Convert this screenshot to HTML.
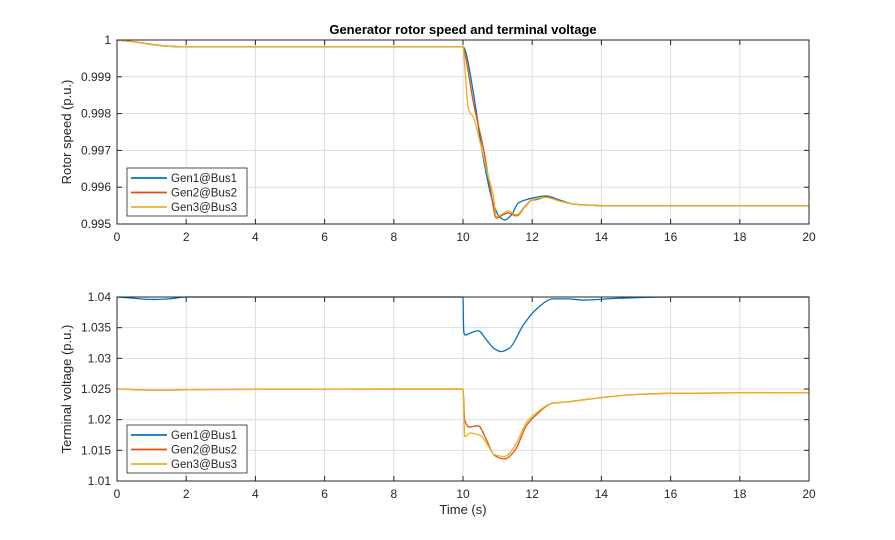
<!DOCTYPE html>
<html><head><meta charset="utf-8"><style>
html,body{margin:0;padding:0;background:#fff;}
svg{display:block;font-family:"Liberation Sans",Arial,sans-serif;}
</style></head><body>
<svg id="chart" width="895" height="540" viewBox="0 0 895 540" xmlns="http://www.w3.org/2000/svg">
<text x="463" y="34" text-anchor="middle" font-size="13" font-weight="bold" fill="#000">Generator rotor speed and terminal voltage</text>
<g id="top"></g>
<g id="bot"></g>
</svg>
<script>
const xTicks = [0,2,4,6,8,10,12,14,16,18,20];
const speedTicks = [0.995,0.996,0.997,0.998,0.999,1];
const speedTickLabels = ["0.995","0.996","0.997","0.998","0.999","1"];
const voltTicks = [1.01,1.015,1.02,1.025,1.03,1.035,1.04];
const voltTickLabels = ["1.01","1.015","1.02","1.025","1.03","1.035","1.04"];
const seriesNames = ["Gen1@Bus1","Gen2@Bus2","Gen3@Bus3"];

const speedT1 = [0,0.5,1,1.5,1.8,10,10.05,10.3,10.58,10.87,11.05,11.21,11.4,11.6,11.9,12.4,12.8,13.2,13.7,14,20];
const speedGen1 = [1,0.99995,0.99988,0.99983,0.99982,0.99982,0.99975,0.99856,0.99682,0.99557,0.9952,0.99511,0.99525,0.99557,0.99568,0.99576,0.99565,0.99554,0.99551,0.9955,0.9955];
const speedT2 = [0,0.5,1,1.5,1.8,10,10.05,10.3,10.6,10.8,10.96,11.1,11.3,11.55,11.8,12.0,12.1,12.4,12.8,13.2,13.7,14,20];
const speedGen2 = [1,0.99995,0.99988,0.99983,0.99982,0.99982,0.99965,0.99830,0.99700,0.99590,0.99516,0.99522,0.99530,0.99522,0.99548,0.99565,0.99566,0.99573,0.99563,0.99554,0.99551,0.9955,0.9955];
const speedT3 = [0,0.5,1,1.5,1.8,10,10.05,10.16,10.3,10.5,10.7,10.87,10.96,11.1,11.3,11.55,11.8,12.0,12.4,12.8,13.2,13.7,14,20];
const speedGen3 = [1,0.99995,0.99988,0.99983,0.99982,0.99982,0.99930,0.99810,0.99790,0.99720,0.99640,0.99579,0.99520,0.99525,0.99535,0.99525,0.99550,0.99566,0.99572,0.99562,0.99554,0.99551,0.9955,0.9955];

const voltT1 = [0,0.5,1,1.5,2,10,10.02,10.05,10.2,10.44,10.68,10.9,11.1,11.35,11.74,12.1,12.6,13,13.5,14.5,16,20];
const voltGen1 = [1.04,1.0398,1.0396,1.0397,1.04,1.04,1.0345,1.0338,1.0341,1.0345,1.0330,1.0316,1.0311,1.0317,1.0354,1.0379,1.0397,1.0397,1.0395,1.0398,1.04,1.04];
const voltT2 = [0,0.5,1,1.5,2,10,10.05,10.18,10.44,10.68,10.9,11.2,11.5,11.84,12.1,12.6,13,14,15,16,20];
const voltGen2 = [1.025,1.0249,1.0248,1.0248,1.0249,1.025,1.0199,1.0188,1.0190,1.0167,1.0142,1.0136,1.0150,1.0191,1.0207,1.0227,1.0229,1.0236,1.0241,1.0243,1.0244];
const voltT3 = [0,0.5,1,1.5,2,10,10.05,10.2,10.5,10.7,10.9,11.2,11.5,11.84,12.1,12.6,13,14,15,16,20];
const voltGen3 = [1.025,1.0249,1.0248,1.0248,1.0249,1.025,1.0172,1.0178,1.0174,1.0160,1.0143,1.0140,1.0157,1.0196,1.0210,1.0227,1.0229,1.0236,1.0241,1.0243,1.0244];

const colors = ["#0072BD","#D95319","#EDB120"];
const NS = "http://www.w3.org/2000/svg";
function mk(tag, attrs, parent){ const e=document.createElementNS(NS,tag); for(const k in attrs) e.setAttribute(k,attrs[k]); parent.appendChild(e); return e; }

// monotone cubic path (no overshoot)
function monoPath(X, Y){
  const n = X.length;
  const d = [], m = new Array(n).fill(0);
  for(let i=0;i<n-1;i++) d.push((Y[i+1]-Y[i])/(X[i+1]-X[i]));
  m[0]=d[0]; m[n-1]=d[n-2];
  for(let i=1;i<n-1;i++){
    if(d[i-1]*d[i]<=0) m[i]=0;
    else { const h0=X[i]-X[i-1], h1=X[i+1]-X[i]; const w1=2*h1+h0, w2=h1+2*h0; m[i]=(w1+w2)/(w1/d[i-1]+w2/d[i]); }
  }
  let p = `M${X[0].toFixed(2)},${Y[0].toFixed(2)}`;
  for(let i=0;i<n-1;i++){
    const h=(X[i+1]-X[i])/3;
    p += ` C${(X[i]+h).toFixed(2)},${(Y[i]+m[i]*h).toFixed(2)} ${(X[i+1]-h).toFixed(2)},${(Y[i+1]-m[i+1]*h).toFixed(2)} ${X[i+1].toFixed(2)},${Y[i+1].toFixed(2)}`;
  }
  return p;
}

function drawPanel(g, box, yMin, yMax, yTicks, yLabels, yTitle, series, showX){
  const xs = v => box.x0 + (v-0)/(20-0)*(box.x1-box.x0);
  const ys = v => box.y1 - (v-yMin)/(yMax-yMin)*(box.y1-box.y0);
  mk('rect',{x:box.x0,y:box.y0,width:box.x1-box.x0,height:box.y1-box.y0,fill:'#fff'},g);
  xTicks.forEach((t,i)=>{
    const gl = mk('line',{x1:xs(t),x2:xs(t),y1:box.y0,y2:box.y1,stroke:'#dedede','stroke-width':1},g);
    
    
    mk('line',{x1:xs(t),x2:xs(t),y1:box.y1,y2:box.y1-5,stroke:'#262626'},g);
    mk('line',{x1:xs(t),x2:xs(t),y1:box.y0,y2:box.y0+5,stroke:'#262626'},g);
    const tx = mk('text',{x:xs(t),y:box.y1+17,'text-anchor':'middle','font-size':12,fill:'#262626'},g);
    tx.textContent = String(t);
    
    
  });
  yTicks.forEach((t,i)=>{
    const gl = mk('line',{x1:box.x0,x2:box.x1,y1:ys(t),y2:ys(t),stroke:'#dedede','stroke-width':1},g);
    
    
    mk('line',{x1:box.x0,x2:box.x0+5,y1:ys(t),y2:ys(t),stroke:'#262626'},g);
    mk('line',{x1:box.x1,x2:box.x1-5,y1:ys(t),y2:ys(t),stroke:'#262626'},g);
    const tx = mk('text',{x:box.x0-6,y:ys(t)+4,'text-anchor':'end','font-size':12,fill:'#262626'},g);
    tx.textContent = yLabels[i];
    
    
  });
  const cy = (box.y0+box.y1)/2;
  const yt = mk('text',{x:box.x0-46,y:cy,'text-anchor':'middle','font-size':13,fill:'#262626',transform:`rotate(-90 ${box.x0-46} ${cy})`},g);
  yt.textContent = yTitle;
  
  
  series.forEach((s,i)=>{
    const X = s.t.map(xs), Y = s.v.map(ys);
    const pl = mk('path',{d:monoPath(X,Y),fill:'none',stroke:colors[i],'stroke-width':1.3,'stroke-linejoin':'round'},g);
    
    
  });
  const fr = mk('rect',{x:box.x0,y:box.y0,width:box.x1-box.x0,height:box.y1-box.y0,fill:'none',stroke:'#262626','stroke-width':1},g);
  
  
  const lg = mk('g',{},g);
  
  
  const lx = box.x0+10, ly = box.y1-56;
  mk('rect',{x:lx,y:ly,width:120,height:48,fill:'#fff',stroke:'#262626','stroke-width':0.8},lg);
  seriesNames.forEach((n,i)=>{
    const yy = ly+10+i*14.5;
    const e = mk('g',{},lg);
    
    
    mk('line',{x1:lx+4,x2:lx+40,y1:yy,y2:yy,stroke:colors[i],'stroke-width':1.8},e);
    const tx = mk('text',{x:lx+44,y:yy+4,'font-size':11.5,fill:'#262626'},e);
    tx.textContent = n;
  });
  if(showX){
    const xt = mk('text',{x:(box.x0+box.x1)/2,y:box.y1+33,'text-anchor':'middle','font-size':13,fill:'#262626'},g);
    xt.textContent = 'Time (s)';
    
    
  }
}
drawPanel(document.getElementById('top'),{x0:117,x1:809,y0:40,y1:224},0.995,1,speedTicks,speedTickLabels,'Rotor speed (p.u.)',
  [{t:speedT1,v:speedGen1},{t:speedT2,v:speedGen2},{t:speedT3,v:speedGen3}],false);
drawPanel(document.getElementById('bot'),{x0:117,x1:809,y0:297,y1:481},1.01,1.04,voltTicks,voltTickLabels,'Terminal voltage (p.u.)',
  [{t:voltT1,v:voltGen1},{t:voltT2,v:voltGen2},{t:voltT3,v:voltGen3}],true);
</script>
</body></html>
